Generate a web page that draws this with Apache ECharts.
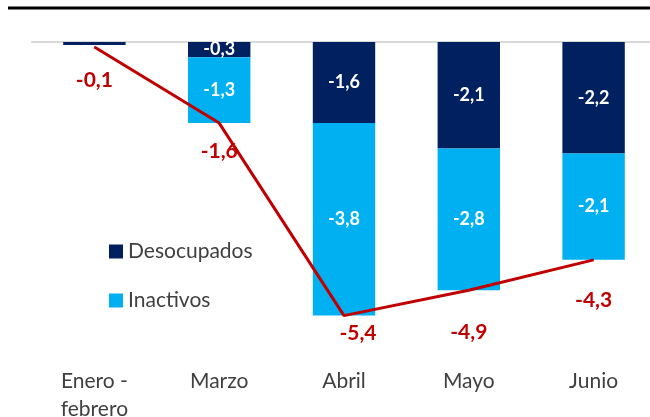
<!DOCTYPE html>
<html>
<head>
<meta charset="utf-8">
<script src="https://cdn.jsdelivr.net/npm/echarts@6/dist/echarts.min.js"></script>
<style>
  html, body { margin: 0; padding: 0; background: #fff; }
  #chart { width: 650px; height: 417px; }
</style>
</head>
<body>
<div id="chart"></div>
<script>
var categories = ["Enero -\nfebrero", "Marzo", "Abril", "Mayo", "Junio"];
var desocupados = [-0.06, -0.3, -1.6, -2.1, -2.2];
var inactivos = [0, -1.3, -3.8, -2.8, -2.1];
var total = [-0.1, -1.6, -5.4, -4.9, -4.3];

// label nudges for the total line, [dx, dy]
var totalLabelOffset = [[0, 4], [0, -1], [14, -11], [0, 13], [0, 11]];

var font = "Lato, 'Open Sans', sans-serif";
function fmt(v) {
    return v.toFixed(1).replace(".", ",");
}
function barLabel(p) {
    return Math.abs(p.value) < 0.2 ? "" : fmt(p.value);
}

var chart = echarts.init(document.getElementById("chart"));
chart.setOption({
    animation: false,
    textStyle: { fontFamily: font },
    grid: { left: 32, width: 624, top: 42, height: 304, outerBoundsMode: "none", containLabel: false },
    legend: {
        orient: "vertical",
        left: 104,
        top: 236,
        icon: "rect",
        itemWidth: 14,
        itemHeight: 14,
        itemGap: 28,
        data: ["Desocupados", "Inactivos"],
        textStyle: { fontSize: 21, color: "#404040", fontFamily: font }
    },
    graphic: [{
        type: "line",
        shape: { x1: 8, y1: 8, x2: 650, y2: 8 },
        style: { stroke: "#000", lineWidth: 3 }
    }],
    xAxis: [{
        type: "category",
        data: categories,
        axisLine: { show: false },
        axisTick: { show: false },
        axisLabel: { fontSize: 21, color: "#404040", margin: 21, lineHeight: 28, fontFamily: font }
    }, {
        type: "category",
        data: categories,
        position: "top",
        axisLine: { onZero: false, lineStyle: { color: "#d9d9d9", width: 2 } },
        axisTick: { show: false },
        axisLabel: { show: false }
    }],
    yAxis: {
        type: "value",
        min: -6,
        max: 0,
        show: false,
        splitLine: { show: false }
    },
    series: [{
        name: "Desocupados",
        type: "bar",
        stack: "t",
        barWidth: "50%",
        data: desocupados,
        itemStyle: { color: "#002060" },
        label: {
            show: true, position: "inside", formatter: barLabel,
            color: "#fff", fontSize: 18, fontWeight: "bold", fontFamily: font
        }
    }, {
        name: "Inactivos",
        type: "bar",
        stack: "t",
        barWidth: "50%",
        data: inactivos,
        itemStyle: { color: "#00B0F0" },
        label: {
            show: true, position: "inside", formatter: barLabel,
            color: "#fff", fontSize: 18, fontWeight: "bold", fontFamily: font
        }
    }, {
        name: "Total",
        type: "line",
        z: 5,
        data: total.map(function (v, i) {
            return { value: v, label: { offset: totalLabelOffset[i] } };
        }),
        symbol: "circle",
        symbolSize: 1,
        showSymbol: true,
        lineStyle: { color: "#C00000", width: 3 },
        itemStyle: { color: "#C00000" },
        label: {
            show: true, position: "bottom", distance: 18,
            formatter: function (p) { return fmt(p.value); },
            color: "#C00000", fontSize: 21, fontWeight: "bold", fontFamily: font
        }
    }]
});
</script>
</body>
</html>
